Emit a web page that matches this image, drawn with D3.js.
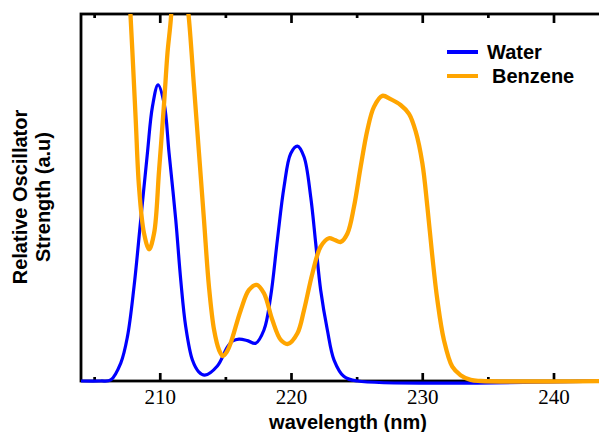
<!DOCTYPE html>
<html>
<head>
<meta charset="utf-8">
<script src="https://cdn.jsdelivr.net/npm/d3@7"></script>
<style>
  body { margin: 0; background: #fff; }
  svg { display: block; }
  .legend-label, .axis-title { font-family: 'Liberation Sans', Arial, sans-serif; font-weight: bold; font-size: 20px; }
  .tick text { font-family: 'Liberation Serif', 'Times New Roman', serif; font-size: 21px; fill: #000; }
</style>
</head>
<body>
<svg id="chart" width="599" height="432"></svg>
<script>
// wavelength (nm) / relative strength
const waterX = [204, 205.5, 206.27, 207.03, 207.54, 208.04, 208.55, 209.06, 209.44, 209.87, 210.33, 210.71, 211.22, 211.6, 211.98, 212.49, 212.97, 213.43, 214.39, 215.16, 215.56, 216.04, 216.68, 217.31, 217.94, 218.45, 218.96, 219.47, 219.98, 220.49, 220.99, 221.5, 221.88, 222.26, 222.77, 223.28, 224.04, 225.06, 244];
const waterY = [0, 0, 0.003, 0.049, 0.121, 0.257, 0.439, 0.621, 0.747, 0.807, 0.757, 0.621, 0.439, 0.275, 0.148, 0.057, 0.025, 0.016, 0.041, 0.093, 0.109, 0.114, 0.11, 0.103, 0.139, 0.23, 0.384, 0.529, 0.62, 0.64, 0.611, 0.502, 0.376, 0.248, 0.139, 0.057, 0.012, 0, 0];

const benzeneX = [207.03, 207.33, 207.56, 207.79, 207.92, 208.17, 208.42, 208.8, 209.19, 209.57, 209.95, 210.33, 210.59, 210.84, 211.07, 211.29, 211.52, 211.75, 211.98, 212.23, 212.61, 212.99, 213.37, 213.75, 214.14, 214.52, 214.8, 215.1, 215.41, 216.17, 216.8, 217.39, 217.94, 218.58, 219.22, 219.77, 220.49, 220.99, 221.63, 222.26, 222.89, 223.33, 223.79, 224.3, 224.8, 225.31, 225.82, 226.32, 226.96, 227.59, 228.35, 228.99, 229.5, 230.01, 230.39, 230.77, 231.15, 231.65, 232.29, 232.92, 233.69, 234.45, 244];
const benzeneY = [1.583, 1.338, 1.147, 0.984, 0.894, 0.711, 0.529, 0.403, 0.359, 0.403, 0.575, 0.757, 0.894, 0.984, 1.12, 1.2, 1.215, 1.172, 1.065, 0.984, 0.802, 0.621, 0.439, 0.257, 0.139, 0.084, 0.068, 0.079, 0.104, 0.193, 0.248, 0.262, 0.239, 0.166, 0.112, 0.101, 0.13, 0.193, 0.293, 0.366, 0.389, 0.384, 0.379, 0.402, 0.475, 0.584, 0.684, 0.747, 0.777, 0.768, 0.752, 0.728, 0.68, 0.593, 0.475, 0.339, 0.221, 0.112, 0.039, 0.016, 0.003, 0, 0];

const majorTicks = [210, 220, 230, 240];
const minorTicks = [205, 215, 225, 235];
const seriesNames = ['Water', 'Benzene'];
const seriesColors = ['#0000ff', '#ffa500'];

const margin = { left: 81, right: 606, top: 14, bottom: 381 };

const svg = d3.select('#chart');
const x = d3.scaleLinear().domain([204, 244]).range([margin.left, margin.right]);
const y = d3.scaleLinear().domain([0, 1]).range([margin.bottom, margin.top]);

// ticks point inward on top and bottom
function addTicks(axisFn, ty, size, values, labels) {
  const g = svg.append('g')
    .attr('transform', 'translate(0,' + ty + ')')
    .call(axisFn(x).tickValues(values).tickSize(-size).tickPadding(labels ? 8 : 0)
      .tickFormat(labels ? d3.format('d') : ''));
  g.select('.domain').remove();
  g.selectAll('.tick line').attr('stroke', '#000').attr('stroke-width', 2.7);
  return g;
}

addTicks(d3.axisBottom, margin.bottom, 8, majorTicks, true);
addTicks(d3.axisBottom, margin.bottom, 4, minorTicks, false);
addTicks(d3.axisTop, margin.top, -9, majorTicks, false).selectAll('.tick line').attr('y2', 9);
addTicks(d3.axisTop, margin.top, -4, minorTicks, false).selectAll('.tick line').attr('y2', 4);

// frame
svg.append('rect')
  .attr('x', margin.left)
  .attr('y', margin.top)
  .attr('width', margin.right - margin.left)
  .attr('height', margin.bottom - margin.top)
  .attr('fill', 'none')
  .attr('stroke', '#000')
  .attr('stroke-width', 2.8);

svg.append('clipPath')
  .attr('id', 'plot-clip')
  .append('rect')
  .attr('x', margin.left)
  .attr('y', margin.top)
  .attr('width', margin.right - margin.left)
  .attr('height', margin.bottom - margin.top + 4);

const line = d3.line()
  .x(d => x(d[0]))
  .y(d => Math.min(y(d[1]), margin.bottom))
  .curve(d3.curveCatmullRom.alpha(0.5));

const series = [
  { xs: waterX, ys: waterY, width: 3.2 },
  { xs: benzeneX, ys: benzeneY, width: 4.3 }
];

series.forEach((s, i) => {
  svg.append('path')
    .datum(s.xs.map((v, j) => [v, s.ys[j]]))
    .attr('clip-path', 'url(#plot-clip)')
    .attr('fill', 'none')
    .attr('stroke', seriesColors[i])
    .attr('stroke-width', s.width)
    .attr('d', line);
});

// legend
const legend = svg.append('g').attr('transform', 'translate(447,52)');
seriesNames.forEach((name, i) => {
  legend.append('line')
    .attr('x1', 0)
    .attr('x2', 31)
    .attr('y1', i * 24)
    .attr('y2', i * 24)
    .attr('stroke', seriesColors[i])
    .attr('stroke-width', 4);
  legend.append('text')
    .attr('class', 'legend-label')
    .attr('x', i === 0 ? 40 : 45)
    .attr('y', i * 24 + 7)
    .text(name);
});

// axis titles
svg.append('text')
  .attr('class', 'axis-title')
  .attr('text-anchor', 'middle')
  .attr('x', 348)
  .attr('y', 429)
  .text('wavelength (nm)');

const yTitle = svg.append('text')
  .attr('class', 'axis-title')
  .attr('text-anchor', 'middle')
  .attr('transform', 'translate(27,197) rotate(-90)');
yTitle.append('tspan').attr('x', 0).attr('dy', 0).text('Relative Oscillator');
yTitle.append('tspan').attr('x', 0).attr('dy', 23).text('Strength (a.u)');
</script>
</body>
</html>
